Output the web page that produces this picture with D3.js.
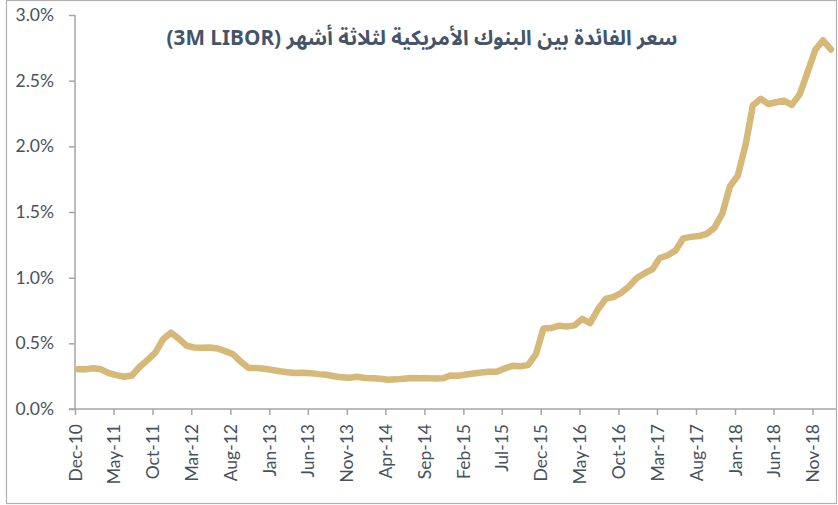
<!DOCTYPE html>
<html><head><meta charset="utf-8">
<script src="https://cdn.jsdelivr.net/npm/d3@7"></script>
<style>
html,body{margin:0;padding:0;background:#fff;}
svg{display:block;}
</style></head>
<body>
<svg id="chart" width="838" height="505"></svg>
<script>
(function(){
// ---- data ----
const title = "سعر الفائدة بين البنوك الأمريكية لثلاثة أشهر (3M LIBOR)";
const startMonth = "Dec-10";   // first observation
const endAxisMonth = "Feb-19"; // end of x axis
const tickLabels = ["Dec-10","May-11","Oct-11","Mar-12","Aug-12","Jan-13","Jun-13","Nov-13","Apr-14","Sep-14","Feb-15","Jul-15","Dec-15","May-16","Oct-16","Mar-17","Aug-17","Jan-18","Jun-18","Nov-18"];
const yTicks = [0, 0.5, 1.0, 1.5, 2.0, 2.5, 3.0];
// monthly 3M LIBOR, %, Dec-10 .. Jan-19
const libor = [
  0.3028,
  0.3030,0.3100,0.3034,0.2735,0.2575,0.2455,0.2555,0.3216,0.3744,0.4289,0.5325,0.5810,
  0.5362,0.4813,0.4684,0.4666,0.4681,0.4606,0.4406,0.4166,0.3586,0.3118,0.3115,0.3060,
  0.2966,0.2871,0.2806,0.2735,0.2753,0.2731,0.2656,0.2611,0.2490,0.2410,0.2376,0.2461,
  0.2356,0.2341,0.2306,0.2232,0.2256,0.2306,0.2366,0.2341,0.2351,0.2314,0.2333,0.2556,
  0.2531,0.2622,0.2708,0.2781,0.2836,0.2831,0.3076,0.3290,0.3251,0.3341,0.4162,0.6127,
  0.6171,0.6342,0.6286,0.6366,0.6861,0.6541,0.7578,0.8387,0.8537,0.8846,0.9342,0.9979,
  1.0339,1.0653,1.1496,1.1701,1.2058,1.2992,1.3106,1.3172,1.3339,1.3792,1.4867,1.6943,
  1.7775,2.0154,2.3118,2.3618,2.3223,2.3358,2.3484,2.3156,2.3981,2.5606,2.7359,2.8076,
  2.7375
];

// ---- layout ----
const parse = d3.timeParse("%b-%y");
const fmt = d3.timeFormat("%b-%y");
const start = parse(startMonth);
const obsDayOffset = 11; // observations sit slightly after the month start
const series = libor.map((v,i)=>({date:d3.timeDay.offset(d3.timeMonth.offset(start,i),obsDayOffset), value:v}));

const svg = d3.select("#chart");
const mLeft = 75, mRight = 836, mTop = 15, mBottom = 409;
const textColor = "#46525C", axisColor = "#A6A6A6";
const font = "Lato, 'Open Sans', sans-serif";

svg.append("rect").attr("x",6.5).attr("y",0.5).attr("width",830).attr("height",503)
  .attr("fill","#fff").attr("stroke","#B0B0B0").attr("stroke-width",1.2);

const x = d3.scaleTime().domain([start, parse(endAxisMonth)]).range([mLeft,mRight]);
const y = d3.scaleLinear().domain([0,3]).range([mBottom,mTop]);

// y axis
const yAxis = svg.append("g").attr("transform",`translate(${mLeft},0)`)
  .call(d3.axisLeft(y).tickValues(yTicks).tickSize(6).tickPadding(15).tickFormat(d=>d3.format(".1f")(d)+"%"));
yAxis.select(".domain").attr("stroke",axisColor).attr("stroke-width",1.5).attr("d",`M0,${mTop}V${mBottom}`);
yAxis.selectAll(".tick line").attr("stroke",axisColor).attr("stroke-width",1.5);
yAxis.selectAll(".tick text").attr("fill",textColor).style("font-family",font).style("font-size","17.5px");

// x axis
const xAxis = svg.append("g").attr("transform",`translate(0,${mBottom})`)
  .call(d3.axisBottom(x).tickValues(tickLabels.map(parse)).tickSize(6).tickFormat(fmt));
xAxis.select(".domain").attr("stroke",axisColor).attr("stroke-width",1.5).attr("d",`M${mLeft-6},0H${mRight}`);
xAxis.selectAll(".tick line").attr("stroke",axisColor).attr("stroke-width",1.5);
xAxis.selectAll(".tick text")
  .attr("fill",textColor).style("font-family",font).style("font-size","17.5px")
  .attr("text-anchor","end").attr("transform","rotate(-90)")
  .attr("x",-15).attr("y",0).attr("dy","0.35em");

// line
svg.append("path").datum(series)
  .attr("fill","none").attr("stroke","#D6B879").attr("stroke-width",6.5)
  .attr("stroke-linejoin","round").attr("stroke-linecap","round")
  .attr("d", d3.line().x(d=>x(d.date)).y(d=>y(d.value)));

// title
const t = svg.append("text").attr("x",422).attr("y",38)
  .attr("direction","rtl").attr("text-anchor","middle").attr("dominant-baseline","central")
  .attr("fill","#44546A").style("font-weight","bold")
  .style("font-family","'Noto Sans Arabic','DejaVu Sans',sans-serif").style("font-size","18px")
  .text(title);
const w = t.node().getComputedTextLength();
if (w > 0) t.style("font-size", (18*511/w).toFixed(2)+"px");
})();
</script>
</body></html>
